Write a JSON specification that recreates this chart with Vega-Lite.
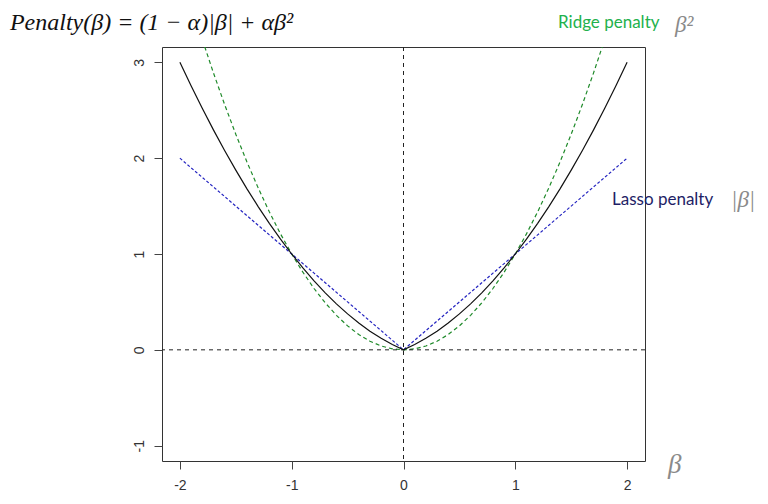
{
  "$schema": "https://vega.github.io/schema/vega-lite/v6.json",
  "width": 483,
  "height": 414,
  "autosize": {"type": "none"},
  "padding": {"left": 162, "top": 47, "right": 123, "bottom": 43},
  "background": "white",
  "config": {
    "view": {"stroke": "#333333", "strokeWidth": 1},
    "axis": {"grid": false, "domain": false, "tickColor": "#444444", "tickSize": 8, "labelColor": "#333333", "labelFont": "Liberation Sans", "labelFontSize": 14, "title": null}
  },
  "data": {"values": [
    {"b": -2.0, "lasso": 2.0, "ridge": 4.0, "elastic": 3.0},
    {"b": -1.9, "lasso": 1.9, "ridge": 3.61, "elastic": 2.755},
    {"b": -1.8, "lasso": 1.8, "ridge": 3.24, "elastic": 2.52},
    {"b": -1.7, "lasso": 1.7, "ridge": 2.89, "elastic": 2.295},
    {"b": -1.6, "lasso": 1.6, "ridge": 2.56, "elastic": 2.08},
    {"b": -1.5, "lasso": 1.5, "ridge": 2.25, "elastic": 1.875},
    {"b": -1.4, "lasso": 1.4, "ridge": 1.96, "elastic": 1.68},
    {"b": -1.3, "lasso": 1.3, "ridge": 1.69, "elastic": 1.495},
    {"b": -1.2, "lasso": 1.2, "ridge": 1.44, "elastic": 1.32},
    {"b": -1.1, "lasso": 1.1, "ridge": 1.21, "elastic": 1.155},
    {"b": -1.0, "lasso": 1.0, "ridge": 1.0, "elastic": 1.0},
    {"b": -0.9, "lasso": 0.9, "ridge": 0.81, "elastic": 0.855},
    {"b": -0.8, "lasso": 0.8, "ridge": 0.64, "elastic": 0.72},
    {"b": -0.7, "lasso": 0.7, "ridge": 0.49, "elastic": 0.595},
    {"b": -0.6, "lasso": 0.6, "ridge": 0.36, "elastic": 0.48},
    {"b": -0.5, "lasso": 0.5, "ridge": 0.25, "elastic": 0.375},
    {"b": -0.4, "lasso": 0.4, "ridge": 0.16, "elastic": 0.28},
    {"b": -0.3, "lasso": 0.3, "ridge": 0.09, "elastic": 0.195},
    {"b": -0.2, "lasso": 0.2, "ridge": 0.04, "elastic": 0.12},
    {"b": -0.1, "lasso": 0.1, "ridge": 0.01, "elastic": 0.055},
    {"b": 0.0, "lasso": 0.0, "ridge": 0.0, "elastic": 0.0},
    {"b": 0.1, "lasso": 0.1, "ridge": 0.01, "elastic": 0.055},
    {"b": 0.2, "lasso": 0.2, "ridge": 0.04, "elastic": 0.12},
    {"b": 0.3, "lasso": 0.3, "ridge": 0.09, "elastic": 0.195},
    {"b": 0.4, "lasso": 0.4, "ridge": 0.16, "elastic": 0.28},
    {"b": 0.5, "lasso": 0.5, "ridge": 0.25, "elastic": 0.375},
    {"b": 0.6, "lasso": 0.6, "ridge": 0.36, "elastic": 0.48},
    {"b": 0.7, "lasso": 0.7, "ridge": 0.49, "elastic": 0.595},
    {"b": 0.8, "lasso": 0.8, "ridge": 0.64, "elastic": 0.72},
    {"b": 0.9, "lasso": 0.9, "ridge": 0.81, "elastic": 0.855},
    {"b": 1.0, "lasso": 1.0, "ridge": 1.0, "elastic": 1.0},
    {"b": 1.1, "lasso": 1.1, "ridge": 1.21, "elastic": 1.155},
    {"b": 1.2, "lasso": 1.2, "ridge": 1.44, "elastic": 1.32},
    {"b": 1.3, "lasso": 1.3, "ridge": 1.69, "elastic": 1.495},
    {"b": 1.4, "lasso": 1.4, "ridge": 1.96, "elastic": 1.68},
    {"b": 1.5, "lasso": 1.5, "ridge": 2.25, "elastic": 1.875},
    {"b": 1.6, "lasso": 1.6, "ridge": 2.56, "elastic": 2.08},
    {"b": 1.7, "lasso": 1.7, "ridge": 2.89, "elastic": 2.295},
    {"b": 1.8, "lasso": 1.8, "ridge": 3.24, "elastic": 2.52},
    {"b": 1.9, "lasso": 1.9, "ridge": 3.61, "elastic": 2.755},
    {"b": 2.0, "lasso": 2.0, "ridge": 4.0, "elastic": 3.0}
  ]},
  "layer": [
    {
      "mark": {"type": "line", "color": "#1f8a2a", "strokeWidth": 1.2, "strokeDash": [4, 3], "clip": true},
      "encoding": {
        "x": {"field": "b", "type": "quantitative", "scale": {"domain": [-2.16, 2.16], "nice": false, "zero": false},
              "axis": {"values": [-2, -1, 0, 1, 2], "labelPadding": 9, "labelExpr": "datum.value < 0 ? '-' + abs(datum.value) : '' + datum.value"}},
        "y": {"field": "ridge", "type": "quantitative",
              "scale": {"domain": [-1.16, 3.16], "nice": false, "zero": false},
              "axis": {"values": [-1, 0, 1, 2, 3], "labelAngle": -90, "labelPadding": 8, "labelExpr": "datum.value < 0 ? '-' + abs(datum.value) : '' + datum.value"}}
      }
    },
    {
      "mark": {"type": "line", "color": "#2424c0", "strokeWidth": 1.2, "strokeDash": [3, 2]},
      "encoding": {"x": {"field": "b", "type": "quantitative"}, "y": {"field": "lasso", "type": "quantitative"}}
    },
    {
      "data": {"values": [{"ref": 0}]},
      "mark": {"type": "rule", "color": "#222222", "strokeWidth": 1, "strokeDash": [4, 4]},
      "encoding": {"x": {"field": "ref", "type": "quantitative"}}
    },
    {
      "data": {"values": [{"ref": 0}]},
      "mark": {"type": "rule", "color": "#222222", "strokeWidth": 1, "strokeDash": [4, 4]},
      "encoding": {"y": {"field": "ref", "type": "quantitative"}}
    },
    {
      "mark": {"type": "line", "color": "#111111", "strokeWidth": 1.2},
      "encoding": {"x": {"field": "b", "type": "quantitative"}, "y": {"field": "elastic", "type": "quantitative"}}
    },
    {
      "data": {"values": [{"ref": 0}]},
      "mark": {"type": "text", "align": "left", "baseline": "middle", "font": "Liberation Serif", "fontStyle": "italic", "fontSize": 24, "color": "#111111"},
      "encoding": {"x": {"datum": -3.52, "type": "quantitative"}, "y": {"datum": 3.41, "type": "quantitative"}, "text": {"value": "Penalty(β) = (1 − α)|β| + αβ²"}}
    },
    {
      "data": {"values": [{"ref": 0}]},
      "mark": {"type": "text", "align": "left", "baseline": "middle", "font": "Lato", "fontSize": 17, "color": "#22b14c"},
      "encoding": {"x": {"datum": 1.382, "type": "quantitative"}, "y": {"datum": 3.41, "type": "quantitative"}, "text": {"value": "Ridge penalty"}}
    },
    {
      "data": {"values": [{"ref": 0}]},
      "mark": {"type": "text", "align": "left", "baseline": "middle", "font": "Liberation Serif", "fontStyle": "italic", "fontSize": 23, "color": "#8a8a8a"},
      "encoding": {"x": {"datum": 2.428, "type": "quantitative"}, "y": {"datum": 3.39, "type": "quantitative"}, "text": {"value": "β²"}}
    },
    {
      "data": {"values": [{"ref": 0}]},
      "mark": {"type": "text", "align": "left", "baseline": "middle", "font": "Lato", "fontSize": 17, "color": "#1e1e66"},
      "encoding": {"x": {"datum": 1.865, "type": "quantitative"}, "y": {"datum": 1.56, "type": "quantitative"}, "text": {"value": "Lasso penalty"}}
    },
    {
      "data": {"values": [{"ref": 0}]},
      "mark": {"type": "text", "align": "left", "baseline": "middle", "font": "Liberation Serif", "fontStyle": "italic", "fontSize": 23, "color": "#8a8a8a"},
      "encoding": {"x": {"datum": 2.93, "type": "quantitative"}, "y": {"datum": 1.56, "type": "quantitative"}, "text": {"value": "|β|"}}
    },
    {
      "data": {"values": [{"ref": 0}]},
      "mark": {"type": "text", "align": "left", "baseline": "middle", "font": "Liberation Serif", "fontStyle": "italic", "fontSize": 27, "color": "#8a8a8a"},
      "encoding": {"x": {"datum": 2.366, "type": "quantitative"}, "y": {"datum": -1.2, "type": "quantitative"}, "text": {"value": "β"}}
    }
  ]
}
